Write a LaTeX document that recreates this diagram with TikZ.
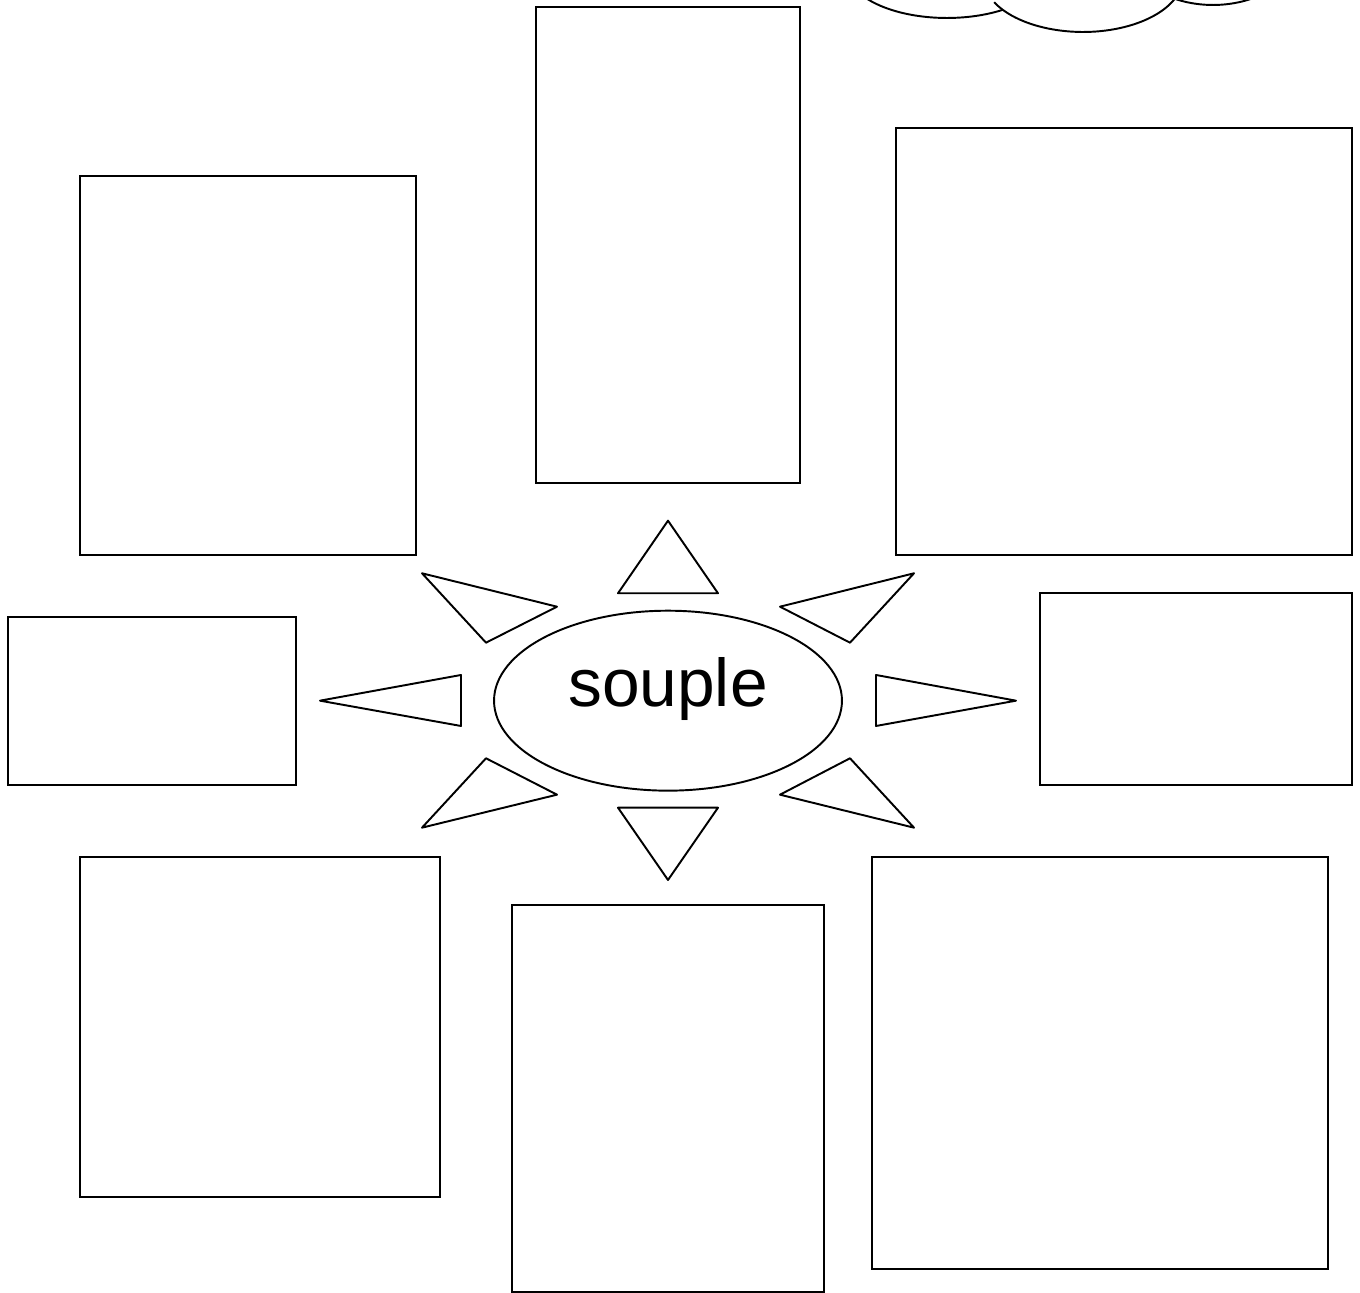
\documentclass[tikz,border=0pt]{standalone}
\usepackage{fontspec}
\setmainfont{Liberation Sans}
\usetikzlibrary{shapes.geometric}
\usepackage{tkz-euclide}

\begin{document}
\begin{tikzpicture}[x=.02cm,y=.02cm]
\tkzSetUpLine[line width=1.1pt,color=black]
\tikzset{frame/.style={draw,line width=1.1pt,inner sep=0pt}}
\useasboundingbox (0,0) rectangle (1360,1293);

% boxes round the sun
\node[frame,minimum width=5.28cm,minimum height=9.52cm] (BN) at (668,1048) {};
\node[frame,minimum width=6.72cm,minimum height=7.58cm] (BNW) at (248,927.5) {};
\node[frame,minimum width=9.12cm,minimum height=8.54cm] (BNE) at (1124,951.5) {};
\node[frame,minimum width=5.76cm,minimum height=3.36cm] (BW) at (152,592) {};
\node[frame,minimum width=6.24cm,minimum height=3.84cm] (BE) at (1196,604) {};
\node[frame,minimum width=7.2cm,minimum height=6.8cm] (BSW) at (260,266) {};
\node[frame,minimum width=6.24cm,minimum height=7.74cm] (BS) at (668,194.5) {};
\node[frame,minimum width=9.12cm,minimum height=8.24cm] (BSE) at (1100,230) {};

% sun
\node[frame,ellipse,minimum width=6.96cm,minimum height=3.6cm] (S) at (668,592.3) {};
\node[anchor=base,font=\fontsize{38.5}{46}\selectfont] (W) at (668,586.3) {souple};

\tkzDefPoints{618/699.7/N1,718/699.7/N2,668/772.3/N3,
  422/719.7/NW1,557/686.3/NW2,486/650.3/NW3,
  914/719.7/NE1,780/686.3/NE2,850/650.3/NE3,
  320/592.3/W1,461/618/W2,461/567/W3,
  1016/592.3/E1,876/618/E2,876/567/E3,
  486/534.7/SW1,557/498.3/SW2,422/465.3/SW3,
  850/534.7/SE1,780/498.3/SE2,914/465.3/SE3,
  618/485.3/S1,718/485.3/S2,668/413/S3}

\tkzDrawPolygon[line width=1.1pt](N1,N2,N3)
\tkzDrawPolygon[line width=1.1pt](NW1,NW2,NW3)
\tkzDrawPolygon[line width=1.1pt](NE1,NE2,NE3)
\tkzDrawPolygon[line width=1.1pt](W1,W2,W3)
\tkzDrawPolygon[line width=1.1pt](E1,E2,E3)
\tkzDrawPolygon[line width=1.1pt](SW1,SW2,SW3)
\tkzDrawPolygon[line width=1.1pt](SE1,SE2,SE3)
\tkzDrawPolygon[line width=1.1pt](S1,S2,S3)

% cloud, cut by the top edge
\begin{scope}
\clip (0,0) rectangle (1360,1293);
\draw[line width=1.1pt] (947,1323) ++(-150:100 and 48)
  arc[start angle=-150,end angle=-56,x radius=100,y radius=48];
\draw[line width=1.1pt] (1083,1316) ++(-152.7:100 and 55)
  arc[start angle=-152.7,end angle=-20,x radius=100,y radius=55];
\draw[line width=1.1pt] (1213,1353) ++(-117.4:90 and 65)
  arc[start angle=-117.4,end angle=-50,x radius=90,y radius=65];
\end{scope}

\end{tikzpicture}
\end{document}
